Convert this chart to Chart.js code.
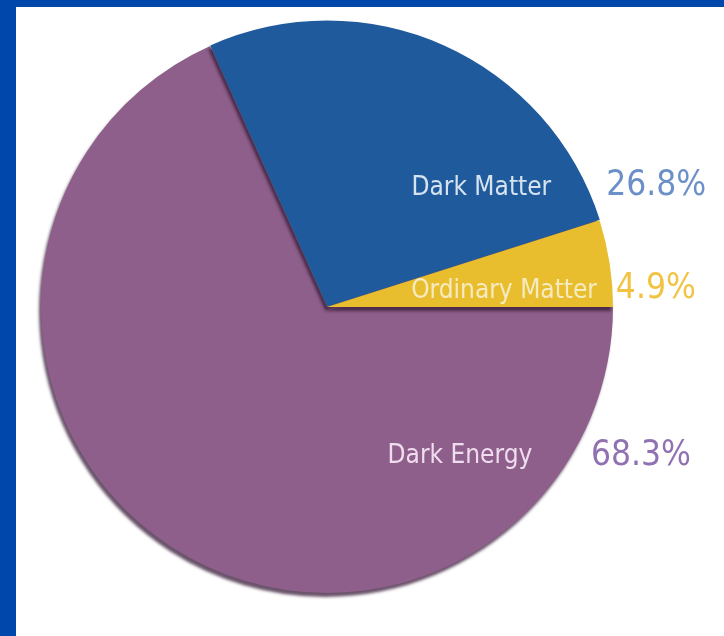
<!DOCTYPE html>
<html>
<head>
<meta charset="utf-8">
<script src="https://cdn.jsdelivr.net/npm/chart.js@4/dist/chart.umd.min.js"></script>
<style>
  html, body { margin: 0; padding: 0; }
  body { width: 724px; height: 636px; background: #0047AB; position: relative; overflow: hidden; }
  #wrap { position: absolute; left: 16px; top: 7px; width: 708px; height: 629px; background: #ffffff; }
</style>
</head>
<body>
<div id="wrap"><canvas id="c" width="708" height="629"></canvas></div>
<script>
// Data (clockwise from 3 o'clock)
const categories = ['Dark Energy', 'Dark Matter', 'Ordinary Matter'];
const shares = [68.3, 26.8, 4.9];

// Styles
const sliceColors = ['#8D5F8A', '#1F5B9C', '#E8BE2E'];
const nameColors = ['#EFDCEF', '#D6E2F0', '#F6EAC0'];
const pctColors = ['#9072B2', '#6B8FC8', '#F2C343'];
// label anchors relative to pie centre, in units of the radius
const labelLayout = [
  { nx: 0.718, ny: 0.544, px: 0.923, py: 0.551 },
  { nx: 0.784, ny: -0.390, px: 0.976, py: -0.390 },
  { nx: 0.944, ny: -0.031, px: 1.010, py: -0.031 }
];

const shadowPlugin = {
  id: 'shadow',
  beforeDatasetsDraw(chart) {
    const ctx = chart.ctx;
    ctx.save();
    ctx.shadowColor = 'rgba(55,25,55,0.75)';
    ctx.shadowBlur = 3;
    ctx.shadowOffsetX = -2;
    ctx.shadowOffsetY = 4;
  },
  afterDatasetsDraw(chart) {
    chart.ctx.restore();
  }
};

const labelPlugin = {
  id: 'labels',
  afterDraw(chart) {
    const ctx = chart.ctx;
    const meta = chart.getDatasetMeta(0);
    const arc0 = meta.data[0];
    const cx = arc0.x, cy = arc0.y, r = arc0.outerRadius;
    ctx.save();
    ctx.textBaseline = 'alphabetic';
    categories.forEach((name, i) => {
      const L = labelLayout[i];
      ctx.font = '26px "DejaVu Sans Condensed", "DejaVu Sans", sans-serif';
      ctx.fillStyle = nameColors[i];
      ctx.textAlign = 'right';
      ctx.fillText(name, cx + L.nx * r, cy + L.ny * r);
      ctx.font = '35px "DejaVu Sans Condensed", "DejaVu Sans", sans-serif';
      ctx.fillStyle = pctColors[i];
      ctx.textAlign = 'left';
      ctx.fillText(shares[i].toFixed(1) + '%', cx + L.px * r, cy + L.py * r);
    });
    ctx.restore();
  }
};

new Chart(document.getElementById('c'), {
  type: 'pie',
  data: {
    labels: categories,
    datasets: [{
      data: shares,
      backgroundColor: sliceColors,
      borderWidth: 0,
      offset: [0, 2, 0]
    }]
  },
  options: {
    responsive: false,
    animation: false,
    rotation: 90,
    layout: { padding: { left: 24, top: 13, right: 110, bottom: 42 } },
    plugins: {
      legend: { display: false },
      tooltip: { enabled: false }
    }
  },
  plugins: [shadowPlugin, labelPlugin]
});
</script>
</body>
</html>
